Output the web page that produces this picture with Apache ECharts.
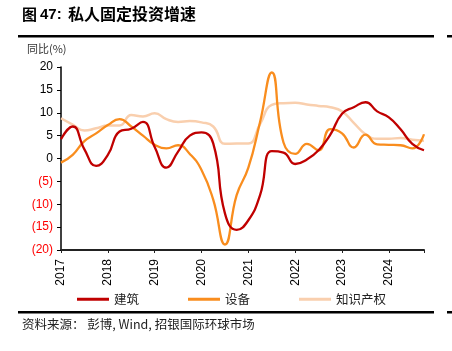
<!DOCTYPE html>
<html>
<head>
<meta charset="utf-8">
<script src="https://cdn.jsdelivr.net/npm/echarts@6/dist/echarts.min.js"></script>
<style>
html,body{margin:0;padding:0;background:#fff;}
#c{width:452px;height:351px;}
</style>
</head>
<body>
<div id="c"></div>
<script>
// Quarterly periods (x position = year + (quarter-1)/4)
const quarters = ['2017Q1','2017Q2','2017Q3','2017Q4','2018Q1','2018Q2','2018Q3','2018Q4',
  '2019Q1','2019Q2','2019Q3','2019Q4','2020Q1','2020Q2','2020Q3','2020Q4',
  '2021Q1','2021Q2','2021Q3','2021Q4','2022Q1','2022Q2','2022Q3','2022Q4',
  '2023Q1','2023Q2','2023Q3','2023Q4','2024Q1','2024Q2','2024Q3','2024Q4'];
// 建筑 (construction), YoY %
const construction = [4.2, 7.0, 2.0, -1.6, 0.8, 5.9, 6.5, 8.0,
  2.5, -2.0, 1.5, 5.0, 5.7, 3.3, -12.0, -15.6,
  -13.5, -8.0, 1.6, 1.3, -1.2, -0.2, 1.8, 5.2,
  9.8, 11.2, 12.3, 10.3, 9.0, 6.4, 3.2, 1.8];
// 设备 (equipment), YoY %
const equipment = [-0.9, 0.8, 3.8, 5.5, 7.3, 8.6, 7.0, 5.0,
  3.0, 2.2, 2.9, 1.0, -2.5, -9.0, -18.8, -8.0,
  -2.0, 8.0, 18.8, 3.5, 1.0, 3.2, 1.8, 6.4,
  5.5, 2.4, 5.2, 3.1, 3.0, 2.9, 2.2, 5.3];
// 知识产权 (intellectual property), YoY %
const ip = [8.8, 7.4, 6.1, 6.6, 7.2, 7.2, 9.5, 9.2,
  9.9, 8.6, 8.0, 8.2, 7.9, 7.0, 3.2, 3.3,
  3.3, 7.5, 11.7, 12.1, 12.2, 11.8, 11.5, 11.2,
  10.3, 7.8, 5.3, 4.3, 4.3, 4.5, 4.1, 3.9];
const seriesNames = ['建筑', '设备', '知识产权'];
const yearTicks = [2017, 2018, 2019, 2020, 2021, 2022, 2023, 2024];

function qx(q){ return parseInt(q.slice(0,4),10) + (parseInt(q.slice(5),10)-1)/4; }
function pairs(vals){ return quarters.map((q,i)=>[qx(q), vals[i]]); }

const chart = echarts.init(document.getElementById('c'), null, {renderer:'canvas'});
const numFont = '"Liberation Sans", Arial, sans-serif';
const cjkFont = '"Noto Sans CJK SC", sans-serif';
const xMin = yearTicks[0], xMax = 2024.75;

chart.setOption({
  backgroundColor:'#fff',
  animation:false,
  grid:{left:61, right:28, top:67, bottom:101},
  graphic:[
    {type:'text', left:22, top:7, style:{text:'图 ', font:'bold 15px '+cjkFont, fill:'#000'}},
    {type:'text', left:40, top:7, style:{text:'47:', font:'bold 15px '+numFont, fill:'#000'}},
    {type:'text', left:68, top:6, style:{text:'私人固定投资增速', font:'bold 16px '+cjkFont, fill:'#000'}},
    {type:'rect', shape:{x:18, y:35, width:416, height:2.5}, style:{fill:'#000'}},
    {type:'rect', shape:{x:447, y:35, width:5, height:2.5}, style:{fill:'#000'}},
    {type:'text', left:27, top:43, style:{text:'同比(%)', font:'11px '+cjkFont, fill:'#333'}},
    {type:'rect', shape:{x:18, y:311, width:416, height:2.5}, style:{fill:'#000'}},
    {type:'rect', shape:{x:447, y:311, width:5, height:2.5}, style:{fill:'#000'}},
    {type:'text', left:22, top:318, style:{text:'资料来源： 彭博, Wind, 招银国际环球市场', font:'12.5px '+cjkFont, fill:'#222'}}
  ],
  legend:{
    left:77, top:293, padding:0, itemWidth:32, itemHeight:3, itemGap:49, icon:'rect',
    textStyle:{fontFamily:cjkFont, fontSize:12.5, color:'#222'},
    data:seriesNames
  },
  xAxis:[
    {type:'value', min:xMin, max:xMax, interval:1,
     axisLine:{show:false}, axisTick:{show:false}, splitLine:{show:false},
     axisLabel:{rotate:90, margin:9, fontFamily:numFont, fontSize:12, color:'#000',
       showMaxLabel:false, formatter:v=> yearTicks.indexOf(v)>=0 ? String(v) : ''}},
    {type:'value', min:xMin, max:xMax, interval:1, position:'bottom',
     axisLine:{show:true, onZero:true, lineStyle:{color:'#222', width:2}},
     axisTick:{show:true, length:3, lineStyle:{color:'#222', width:1}},
     axisLabel:{show:false}, splitLine:{show:false}}
  ],
  yAxis:{type:'value', min:-20, max:20, interval:5,
    axisLine:{show:true, lineStyle:{color:'#000', width:1.5}},
    axisTick:{show:true, length:4, lineStyle:{color:'#000'}},
    splitLine:{show:false},
    axisLabel:{margin:8, fontFamily:numFont, fontSize:12, color:'#000',
      formatter:v=> v<0 ? '{n|('+(-v)+')}' : String(v),
      rich:{n:{color:'#FF0000', fontFamily:numFont, fontSize:12}}}
  },
  series:[
    {name:seriesNames[2], type:'line', smooth:0.5, showSymbol:false, xAxisIndex:0, z:2,
     data:pairs(ip), lineStyle:{color:'#F9CFAE', width:2.5}, itemStyle:{color:'#F9CFAE'}},
    {name:seriesNames[1], type:'line', smooth:0.5, showSymbol:false, xAxisIndex:0, z:3,
     data:pairs(equipment), lineStyle:{color:'#F98D1E', width:2.3}, itemStyle:{color:'#F98D1E'}},
    {name:seriesNames[0], type:'line', smooth:0.5, showSymbol:false, xAxisIndex:0, z:4,
     data:pairs(construction), lineStyle:{color:'#C00000', width:2.3}, itemStyle:{color:'#C00000'}}
  ]
});
</script>
</body>
</html>
